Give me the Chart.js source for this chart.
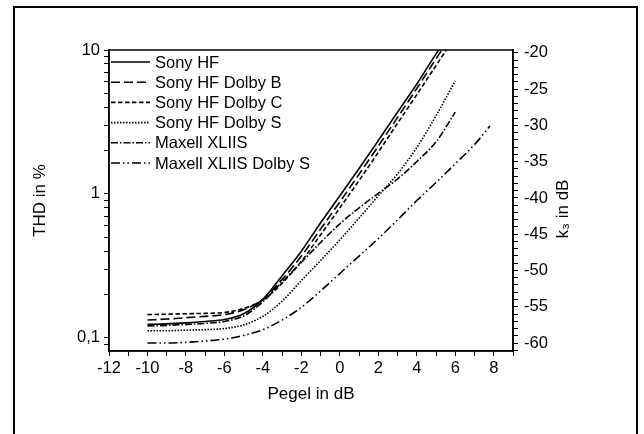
<!DOCTYPE html>
<html>
<head>
<meta charset="utf-8">
<script src="https://cdn.jsdelivr.net/npm/chart.js@4.4.1/dist/chart.umd.min.js"></script>
<style>
    html, body { margin: 0; padding: 0; background: #fff; }
    #thdChart { display: block; }
</style>
</head>
<body>
<canvas id="thdChart" width="644" height="434"></canvas>
<script>
// level in dB (x values)
const levels = [-10, -9, -8, -7, -6, -5, -4, -3, -2, -1, 0, 1, 2, 3, 4, 5, 6];
const maxellSLevels = [-10, -9, -8, -7, -6, -5, -4, -3, -2, -1, 0, 1, 2, 3, 4, 5, 6, 7, 7.8];

// THD in %
const sonyHf = [0.124, 0.125, 0.127, 0.130, 0.134, 0.147, 0.185, 0.27, 0.40, 0.63, 0.97, 1.5, 2.35, 3.7, 5.8, 9.4, 14.5];
const sonyHfDolbyB = [0.133, 0.135, 0.138, 0.141, 0.145, 0.157, 0.185, 0.255, 0.37, 0.57, 0.88, 1.37, 2.15, 3.4, 5.4, 8.7, 13.8];
const sonyHfDolbyC = [0.145, 0.146, 0.147, 0.148, 0.150, 0.160, 0.183, 0.24, 0.34, 0.52, 0.80, 1.24, 1.95, 3.1, 4.9, 7.8, 12.4];
const sonyHfDolbyS = [0.112, 0.112, 0.113, 0.114, 0.116, 0.123, 0.141, 0.18, 0.25, 0.345, 0.48, 0.68, 0.97, 1.38, 2.1, 3.5, 6.1];
const maxellXliis = [0.121, 0.122, 0.124, 0.126, 0.130, 0.142, 0.178, 0.245, 0.335, 0.46, 0.62, 0.8, 1.01, 1.27, 1.68, 2.3, 3.7];
const maxellXliisDolbyS = [0.092, 0.092, 0.093, 0.095, 0.098, 0.104, 0.114, 0.133, 0.163, 0.212, 0.28, 0.37, 0.49, 0.66, 0.9, 1.2, 1.62, 2.2, 2.96];

// axis ticks
const thdTicks = [0.09, 0.1, 0.2, 0.3, 0.4, 0.5, 0.6, 0.7, 0.8, 0.9, 1, 2, 3, 4, 5, 6, 7, 8, 9, 10];
const thdTickLabels = { '0.1': '0,1', '1': '1', '10': '10' };
const k3Ticks = [-61, -60, -59, -58, -57, -56, -55, -54, -53, -52, -51, -50, -49, -48, -47, -46, -45, -44, -43, -42, -41,
    -40, -39, -38, -37, -36, -35, -34, -33, -32, -31, -30, -29, -28, -27, -26, -25, -24, -23, -22, -21, -20];

const FONT = '"Liberation Sans", Arial, sans-serif';

const pairs = (xs, ys) => xs.map((x, i) => ({ x, y: ys[i] }));

const series = [
    { label: 'Sony HF', xs: levels, ys: sonyHf, dash: [] },
    { label: 'Sony HF Dolby B', xs: levels, ys: sonyHfDolbyB, dash: [9, 4] },
    { label: 'Sony HF Dolby C', xs: levels, ys: sonyHfDolbyC, dash: [4.5, 2.5] },
    { label: 'Sony HF Dolby S', xs: levels, ys: sonyHfDolbyS, dash: [1.5, 1.5] },
    { label: 'Maxell XLIIS', xs: levels, ys: maxellXliis, dash: [7, 2, 1.5, 2] },
    { label: 'Maxell XLIIS Dolby S', xs: maxellSLevels, ys: maxellXliisDolbyS, dash: [9, 3, 1.5, 3, 1.5, 3] }
];

const datasets = series.map((s) => ({
    label: s.label,
    data: pairs(s.xs, s.ys),
    borderColor: '#000',
    borderWidth: 1.6,
    borderDash: s.dash,
    pointRadius: 0,
    fill: false,
    cubicInterpolationMode: 'monotone'
}));

// white page with the outer figure frame
const framePlugin = {
    id: 'frame',
    beforeDraw(chart) {
        const ctx = chart.ctx;
        ctx.save();
        ctx.fillStyle = '#fff';
        ctx.fillRect(0, 0, chart.width, chart.height);
        ctx.strokeStyle = '#000';
        ctx.lineWidth = 2;
        ctx.beginPath();
        ctx.moveTo(14, 440);
        ctx.lineTo(14, 7);
        ctx.lineTo(637, 7);
        ctx.lineTo(637, 440);
        ctx.stroke();
        ctx.restore();
    }
};

// closed box round the plot, line legend and the right axis title
const decorPlugin = {
    id: 'decor',
    afterDraw(chart) {
        const { ctx, chartArea: a } = chart;
        ctx.save();
        ctx.strokeStyle = '#000';
        ctx.lineWidth = 1.5;
        ctx.strokeRect(a.left, a.top, a.right - a.left, a.bottom - a.top);

        ctx.font = `16.5px ${FONT}`;
        ctx.fillStyle = '#000';
        ctx.textBaseline = 'middle';
        chart.data.datasets.forEach((ds, i) => {
            const y = a.top + 12 + i * 20.2;
            ctx.lineWidth = ds.borderWidth;
            ctx.setLineDash(ds.borderDash);
            ctx.beginPath();
            ctx.moveTo(a.left + 2, y);
            ctx.lineTo(a.left + 41, y);
            ctx.stroke();
            ctx.setLineDash([]);
            ctx.fillText(ds.label, a.left + 46, y + 1);
        });

        ctx.font = `17px ${FONT}`;
        ctx.translate(563, 209);
        ctx.rotate(-Math.PI / 2);
        ctx.textAlign = 'center';
        ctx.fillText('k₃ in dB', 0, 0);
        ctx.restore();
    }
};

const tickFont = { family: FONT, size: 16.5 };
const titleFont = { family: FONT, size: 17 };
const axisGrid = { drawOnChartArea: false, tickLength: 5, color: '#000', tickColor: '#000' };
const axisBorder = { color: '#000', width: 1.5 };

new Chart(document.getElementById('thdChart'), {
    type: 'line',
    data: { datasets },
    plugins: [framePlugin, decorPlugin],
    options: {
        responsive: false,
        animation: false,
        layout: { padding: { top: 50, left: 0, right: 0, bottom: 0 } },
        plugins: { legend: { display: false }, tooltip: { enabled: false } },
        scales: {
            x: {
                type: 'linear',
                min: -12,
                max: 9,
                grid: axisGrid,
                border: axisBorder,
                ticks: {
                    stepSize: 1,
                    autoSkip: false,
                    maxRotation: 0,
                    padding: 3,
                    color: '#000',
                    font: tickFont,
                    callback: (v) => (v % 2 === 0 ? String(v) : '')
                },
                title: { display: true, text: 'Pegel in dB', color: '#000', font: titleFont, padding: { top: 0, bottom: 29 } },
                afterFit: (s) => { s.height = 83; }
            },
            y: {
                type: 'logarithmic',
                position: 'left',
                min: 0.081,
                max: 10,
                grid: axisGrid,
                border: axisBorder,
                afterBuildTicks: (s) => { s.ticks = thdTicks.map((value) => ({ value })); },
                ticks: {
                    autoSkip: false,
                    padding: 4,
                    color: '#000',
                    font: tickFont,
                    callback: (v) => thdTickLabels[String(v)] ?? ''
                },
                title: { display: true, text: 'THD in %', color: '#000', font: titleFont, padding: { top: 30, bottom: 0 } },
                afterFit: (s) => { s.width = 109; }
            },
            y2: {
                type: 'linear',
                position: 'right',
                min: -61.1,
                max: -19.6,
                grid: axisGrid,
                border: axisBorder,
                afterBuildTicks: (s) => { s.ticks = k3Ticks.map((value) => ({ value })); },
                ticks: {
                    autoSkip: false,
                    padding: 6,
                    color: '#000',
                    font: tickFont,
                    callback: (v) => (v % 5 === 0 ? String(v) : '')
                },
                afterFit: (s) => { s.width = 131; }
            }
        }
    }
});
</script>
</body>
</html>
